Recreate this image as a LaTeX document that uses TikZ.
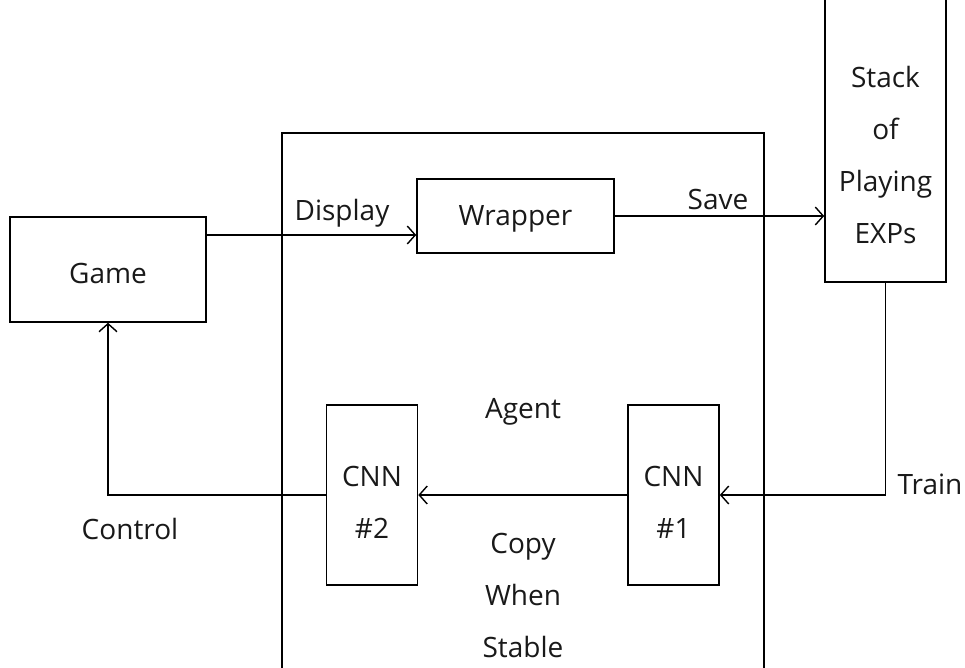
\documentclass[tikz,border=0pt]{standalone}
\usepackage{fontspec}
\setmainfont{Open Sans}
\usetikzlibrary{arrows.meta,calc,positioning}

\begin{document}
\begin{tikzpicture}[x=1pt,y=-1pt,
  box/.style={draw,line width=1.6pt,inner sep=0pt},
  lab/.style={font=\fontsize{28}{52}\selectfont,text=black!90,align=center,inner sep=0pt},
  arr/.style={line width=1.4pt,-{Straight Barb[length=8pt,width=18pt,line width=1.4pt]}}]
  \useasboundingbox (0,0) rectangle (965,668);
  \clip (0,0) rectangle (965,668);
  \draw[line width=1.6pt] (281.7,700) |- (764,133.3) -- (764,700);
  \node[box,minimum width=196,minimum height=105] (game) at (108,269.5) {};
  \node[lab] (gametxt) at (108,273) {Game};
  \node[box,minimum width=197,minimum height=74] (wrapper) at (515.5,216) {};
  \node[lab] (wraptxt) at (515.5,219) {Wrapper};
  \node[box,minimum width=121,minimum height=310,anchor=south] (stack) at (885.5,283) {};
  \node[lab] (stacktxt) at (885.5,155) {Stack\\of\\Playing\\EXPs};
  \node[box,minimum width=91,minimum height=180] (cnn2) at (372,495) {};
  \node[lab] (cnn2txt) at (372,502) {CNN\\\#2};
  \node[box,minimum width=91,minimum height=180] (cnn1) at (673.5,495) {};
  \node[lab] (cnn1txt) at (673.5,502) {CNN\\\#1};
  \node[lab] (agent) at (523,412) {Agent};
  \node[lab] (copy) at (523,595) {Copy\\When\\Stable};
  \node[lab] (display) at (342,213) {Display};
  \node[lab] (save) at (718,199) {Save};
  \node[lab] (train) at (930,484) {Train};
  \node[lab] (control) at (130,529) {Control};
  \coordinate (gw) at (0,235);
  \draw[arr] (game.east |- gw) -- (wrapper.west |- gw);
  \draw[arr] (wrapper.east) -- (wrapper.east -| stack.west);
  \draw[arr] (stack.south) |- (cnn1.east);
  \draw[arr] (cnn1.west) -- (cnn2.east);
  \draw[arr] (cnn2.west) -| (game.south);
\end{tikzpicture}
\end{document}
